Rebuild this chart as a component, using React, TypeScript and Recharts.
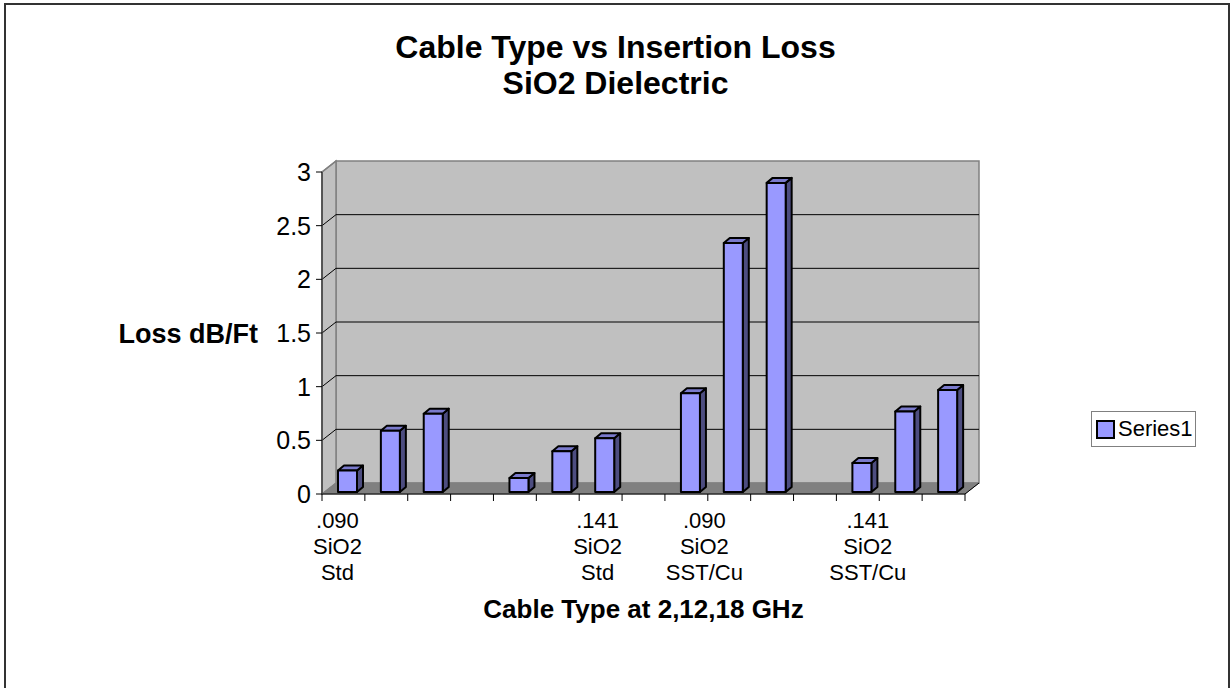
import React from 'react';
import { BarChart, Bar, XAxis, YAxis, ReferenceArea, Label } from 'recharts';

const categories = ['1', '2', '3', '4', '5', '6', '7', '8', '9', '10', '11', '12', '13', '14', '15'];
const tickLabels = ['.090 SiO2 Std', '', '', '', '', '', '.141 SiO2 Std', '', '.090 SiO2 SST/Cu', '', '', '', '.141 SiO2 SST/Cu', '', ''];
const lossValues = [0.2, 0.57, 0.73, null, 0.13, 0.38, 0.5, null, 0.92, 2.32, 2.88, null, 0.27, 0.75, 0.95];
const yTicks = [0, 0.5, 1, 1.5, 2, 2.5, 3];

const data = categories.map((cat, i) => ({ cat, loss: lossValues[i] }));

const FONT = '"Liberation Sans", Arial, sans-serif';
// 3d offsets
const WALL_DX = 14;
const WALL_DY = -11;
const BAR_DX = 4;
const BAR_DY = -2;
const DEPTH_X = 6;
const DEPTH_Y = -5;
// excel nudges the wrapped labels a bit off the category centre
const LABEL_NUDGE: Record<number, number> = { 0: -6, 6: -3, 8: 18, 12: 10 };

const Walls = (props: any) => {
    const { x, y, width, height } = props;
    const bottom = y + height;
    const step = height / (yTicks.length - 1);
    return (
        <g>
            <rect x={x + WALL_DX} y={y + WALL_DY} width={width} height={height} fill="#C0C0C0" stroke="#808080" strokeWidth={1.5} />
            <polygon
                points={`${x},${bottom} ${x + WALL_DX},${bottom + WALL_DY} ${x + WALL_DX},${y + WALL_DY} ${x},${y}`}
                fill="#C0C0C0" stroke="#808080" strokeWidth={1.5}
            />
            <polygon
                points={`${x},${bottom} ${x + WALL_DX},${bottom + WALL_DY} ${x + width + WALL_DX},${bottom + WALL_DY} ${x + width},${bottom}`}
                fill="#808080" stroke="#808080" strokeWidth={1}
            />
            {yTicks.slice(1, -1).map((t, i) => {
                const gy = bottom - step * (i + 1);
                return (
                    <g key={t}>
                        <line x1={x + WALL_DX} y1={gy + WALL_DY} x2={x + width + WALL_DX} y2={gy + WALL_DY} stroke="#000" strokeWidth={1} />
                        <line x1={x} y1={gy} x2={x + WALL_DX} y2={gy + WALL_DY} stroke="#000" strokeWidth={1} />
                    </g>
                );
            })}
            <line x1={x} y1={y} x2={x + WALL_DX} y2={y + WALL_DY} stroke="#808080" strokeWidth={1.5} />
            <line x1={x + width} y1={bottom} x2={x + width + WALL_DX} y2={bottom + WALL_DY} stroke="#000" strokeWidth={1} />
        </g>
    );
};

const Bar3D = (props: any) => {
    const { x, y, width, height, value } = props;
    if (value == null || !height || height <= 0) return null;
    const fx = x + BAR_DX;
    const fy = y + BAR_DY;
    const r = fx + width;
    const b = fy + height;
    return (
        <g stroke="#000" strokeWidth={2} strokeLinejoin="round">
            <polygon points={`${r},${fy} ${r + DEPTH_X},${fy + DEPTH_Y} ${r + DEPTH_X},${b + DEPTH_Y} ${r},${b}`} fill="#4D4D80" />
            <polygon points={`${fx},${fy} ${fx + DEPTH_X},${fy + DEPTH_Y} ${r + DEPTH_X},${fy + DEPTH_Y} ${r},${fy}`} fill="#7A7ACC" />
            <rect x={fx} y={fy} width={width} height={height} fill="#9999FF" />
        </g>
    );
};

const XTick = (props: any) => {
    const { x, y, payload } = props;
    const idx = categories.indexOf(payload.value);
    const half = payload.offset || 21.4;
    const lines = (tickLabels[idx] || '').split(' ').filter(Boolean);
    const tx = x + (LABEL_NUDGE[idx] || 0);
    return (
        <g>
            <line x1={x - half} y1={y} x2={x - half} y2={y + 7} stroke="#000" strokeWidth={1} />
            {idx === categories.length - 1 && (
                <line x1={x + half} y1={y} x2={x + half} y2={y + 7} stroke="#000" strokeWidth={1} />
            )}
            {lines.map((ln, i) => (
                <text key={i} x={tx} y={y + 28 + i * 26} textAnchor="middle" dominantBaseline="middle" fontSize={22} fontFamily={FONT} fill="#000">
                    {ln}
                </text>
            ))}
        </g>
    );
};

const LegendBox = () => (
    <div style={{ border: '1px solid #808080', width: 105, height: 36, boxSizing: 'border-box', display: 'flex', alignItems: 'center', background: '#fff', fontFamily: FONT }}>
        <div style={{ width: 15, height: 15, background: '#9999FF', border: '2px solid #000', marginLeft: 4, marginRight: 3 }} />
        <span style={{ fontSize: 22, color: '#000' }}>Series1</span>
    </div>
);

export default function App() {
    return (
        <div style={{ position: 'absolute', left: 0, top: 0, width: 1231, height: 688, background: '#fff', fontFamily: FONT }}>
            <div style={{ position: 'absolute', left: 4, top: 3, width: 1226, height: 690, border: '2px solid #333', boxSizing: 'border-box' }} />
            <div style={{ position: 'absolute', left: 0, top: 29, width: 1231, textAlign: 'center', fontSize: 32, fontWeight: 'bold', lineHeight: '36px', color: '#000' }}>
                Cable Type vs Insertion Loss
                <br />
                SiO2 Dielectric
            </div>
            <div style={{ position: 'absolute', left: 1091, top: 411 }}>
                <LegendBox />
            </div>
            <BarChart
                width={1231}
                height={688}
                data={data}
                margin={{ top: 172, right: 266, bottom: 90, left: 262 }}
                barSize={19}
                style={{ position: 'absolute', left: 0, top: 0 }}
            >
                <XAxis
                    dataKey="cat"
                    interval={0}
                    tickSize={0}
                    tickMargin={0}
                    tickLine={false}
                    axisLine={{ stroke: '#000', strokeWidth: 1 }}
                    tick={<XTick />}
                    height={104}
                >
                    <Label value="Cable Type at 2,12,18 GHz" position="bottom" offset={2} fontSize={26} fontWeight="bold" fontFamily={FONT} fill="#000" />
                </XAxis>
                <YAxis
                    domain={[0, 3]}
                    ticks={yTicks}
                    interval={0}
                    width={60}
                    tickSize={6}
                    tickMargin={5}
                    tickLine={{ stroke: '#000' }}
                    axisLine={{ stroke: '#404040', strokeWidth: 1.5 }}
                    tick={{ fontSize: 25, fontFamily: FONT, fill: '#000' }}
                >
                    <Label value="Loss dB/Ft" position="left" offset={4} angle={0} textAnchor="end" fontSize={27} fontWeight="bold" fontFamily={FONT} fill="#000" />
                </YAxis>
                <ReferenceArea y1={0} y2={3} shape={<Walls />} ifOverflow="visible" />
                <Bar dataKey="loss" fill="#9999FF" shape={<Bar3D />} isAnimationActive={false} />
            </BarChart>
        </div>
    );
}
